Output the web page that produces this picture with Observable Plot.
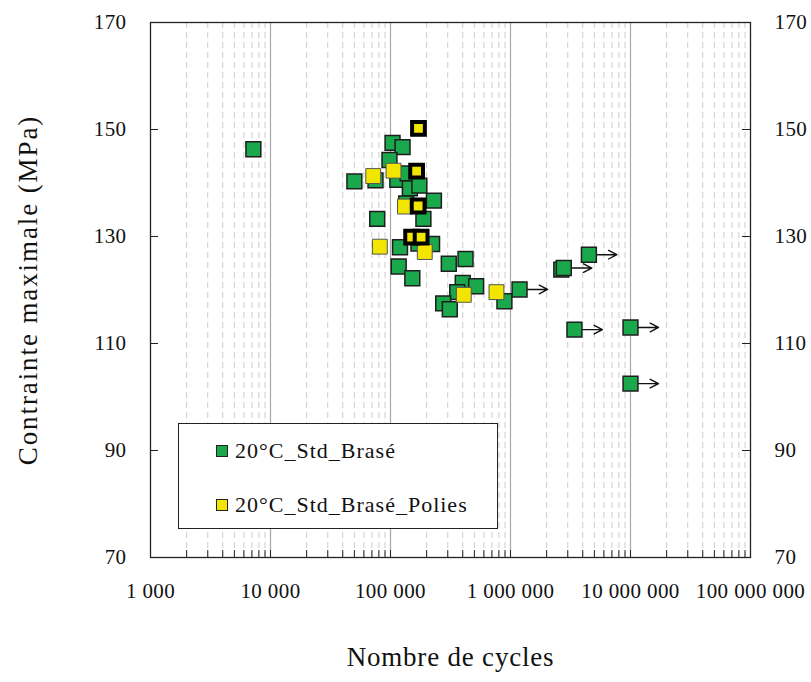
<!DOCTYPE html>
<html>
<head>
<meta charset="utf-8">
<script src="https://cdn.jsdelivr.net/npm/d3@7"></script>
<script src="https://cdn.jsdelivr.net/npm/@observablehq/plot@0.6"></script>
<style>
  html, body { margin: 0; padding: 0; background: #fff; }
  #chart { position: relative; width: 811px; height: 682px; font-family: "Liberation Serif", serif; }
  #chart svg text { letter-spacing: 0.4px; }
  #legend { position: absolute; left: 178px; top: 423px; width: 318px; height: 104px;
            border: 1.5px solid #222; background: #fff; color: #111;
            font-family: "Liberation Serif", serif; font-size: 22px; letter-spacing: 1px; }
  .row { position: absolute; left: 37px; height: 24px; display: flex; align-items: center; }
  .sw { width: 10px; height: 10px; border: 1px solid #222; margin-right: 7px; }
</style>
</head>
<body>
<div id="chart"></div>
<script>
// ---- Data ----
const seriesNames = ["20°C_Std_Brasé", "20°C_Std_Brasé_Polies"];
const seriesColors = ["#19a84b", "#f2e600"];

// 20°C_Std_Brasé
const stdCycles = [7200, 50000, 104000, 126000, 98000, 114000, 139000, 75000, 145000, 174000,
                   230000, 135000, 188000, 77500, 120000, 222000, 171000, 306000, 422000, 117000,
                   152000, 400000, 517000, 360000, 890000, 275000, 312000,
                   1190000, 4500000, 2650000, 2780000, 3410000, 10000000, 10000000];
const stdStress = [146.3, 140.3, 147.5, 146.7, 144.3, 140.6, 141.8, 140.5, 139.0, 139.5,
                   136.7, 136.2, 133.3, 133.3, 128.0, 128.6, 128.7, 124.9, 125.8, 124.4,
                   122.2, 121.3, 120.7, 119.6, 117.9, 117.5, 116.4,
                   120.1, 126.6, 123.8, 124.1, 112.6, 113.0, 102.5];
const stdRunout = [0, 0, 0, 0, 0, 0, 0, 0, 0, 0,
                   0, 0, 0, 0, 0, 0, 0, 0, 0, 0,
                   0, 0, 0, 0, 0, 0, 0,
                   1, 1, 0, 1, 1, 1, 1];

// 20°C_Std_Brasé_Polies
const polCycles = [106000, 71800, 132000, 81500, 193000, 408000, 764000,
                   171000, 165000, 170000, 150000, 180000];
const polStress = [142.3, 141.3, 135.6, 128.1, 127.1, 119.1, 119.6,
                   150.2, 142.2, 135.7, 129.9, 129.9];
const polHighlight = [0, 0, 0, 0, 0, 0, 0, 1, 1, 1, 1, 1];

// Axes
const xDomain = [1e3, 1e8];
const yDomain = [70, 170];
const xTickValues = [1e3, 1e4, 1e5, 1e6, 1e7, 1e8];
const xTickLabels = ["1 000", "10 000", "100 000", "1 000 000", "10 000 000", "100 000 000"];
const yTickValues = [70, 90, 110, 130, 150, 170];
const xTitle = "Nombre de cycles";
const yTitle = "Contrainte maximale (MPa)";

// ---- Build ----
const std = stdCycles.map((c, i) => ({cycles: c, stress: stdStress[i], runout: stdRunout[i]}));
const pol = polCycles.map((c, i) => ({cycles: c, stress: polStress[i], hl: polHighlight[i]}));
const runouts = std.filter(d => d.runout);
const arrowFactor = Math.pow(10, 28 / 120);

const majorGrid = [1e4, 1e5, 1e6, 1e7];
const minorGrid = [];
for (let e = 3; e < 8; e++) for (let k = 2; k <= 9; k++) minorGrid.push(k * Math.pow(10, e));

const W = 811, H = 682, mL = 150, mR = 61, mT = 22, mB = 125;
const plotW = W - mL - mR, plotH = H - mT - mB;

const chart = Plot.plot({
  width: W, height: H,
  marginLeft: mL, marginRight: mR, marginTop: mT, marginBottom: mB,
  x: {type: "log", domain: xDomain},
  y: {domain: yDomain},
  style: {fontFamily: "Liberation Serif, serif", fontSize: "21px", background: "#fff", color: "#111"},
  marks: [
    Plot.ruleX(minorGrid, {stroke: "#cdcdcd", strokeWidth: 1, strokeDasharray: "6,4"}),
    Plot.ruleX(majorGrid, {stroke: "#a6a6a6", strokeWidth: 1.2}),
    // inward ticks
    Plot.ruleX(minorGrid.concat(majorGrid), {stroke: "#222", strokeWidth: 1, insetTop: plotH - 7}),
    Plot.ruleY(yTickValues, {stroke: "#222", strokeWidth: 1, insetRight: plotW - 8}),
    Plot.ruleY(yTickValues, {stroke: "#222", strokeWidth: 1, insetLeft: plotW - 8}),
    Plot.frame({stroke: "#222", strokeWidth: 1.3}),
    Plot.axisX(xTickValues, {anchor: "bottom", tickSize: 0, tickPadding: 26, label: null,
      tickFormat: (d) => xTickLabels[xTickValues.indexOf(d)]}),
    Plot.axisY(yTickValues, {anchor: "left", tickSize: 0, tickPadding: 24, label: null}),
    Plot.axisY(yTickValues, {anchor: "right", tickSize: 0, tickPadding: 24, label: null}),
    // runout arrows
    Plot.arrow(runouts, {x1: "cycles", y1: "stress", x2: d => d.cycles * arrowFactor, y2: "stress",
      stroke: "#111", strokeWidth: 1.4, headLength: 10, headAngle: 55}),
    Plot.dot(std, {x: "cycles", y: "stress", symbol: "square", r: 8.4,
      fill: seriesColors[0], stroke: "#1e1e1e", strokeWidth: 1.5}),
    Plot.dot(pol.filter(d => !d.hl), {x: "cycles", y: "stress", symbol: "square", r: 8.4,
      fill: seriesColors[1], stroke: "#555", strokeWidth: 1}),
    Plot.dot(pol.filter(d => d.hl), {x: "cycles", y: "stress", symbol: "square", r: 7.2,
      fill: seriesColors[1], stroke: "#000", strokeWidth: 4}),
    Plot.text([xTitle], {frameAnchor: "bottom", textAnchor: "middle", dy: 108, fontSize: 27}),
    Plot.text([yTitle], {frameAnchor: "left", textAnchor: "middle", dx: -122, rotate: -90, fontSize: 27})
  ]
});

const root = document.getElementById("chart");
root.appendChild(chart);
d3.select(chart).selectAll("text").each(function () {
  const s = this.textContent;
  if (s === xTitle) this.style.letterSpacing = "0.8px";
  if (s === yTitle) this.style.letterSpacing = "1.9px";
});

// legend
const legend = document.createElement("div");
legend.id = "legend";
seriesNames.forEach((name, i) => {
  const row = document.createElement("div");
  row.className = "row";
  row.style.top = (i === 0 ? 15 : 69) + "px";
  const sw = document.createElement("span");
  sw.className = "sw";
  sw.style.background = seriesColors[i];
  const t = document.createElement("span");
  t.textContent = name;
  row.appendChild(sw);
  row.appendChild(t);
  legend.appendChild(row);
});
root.appendChild(legend);
</script>
</body>
</html>
